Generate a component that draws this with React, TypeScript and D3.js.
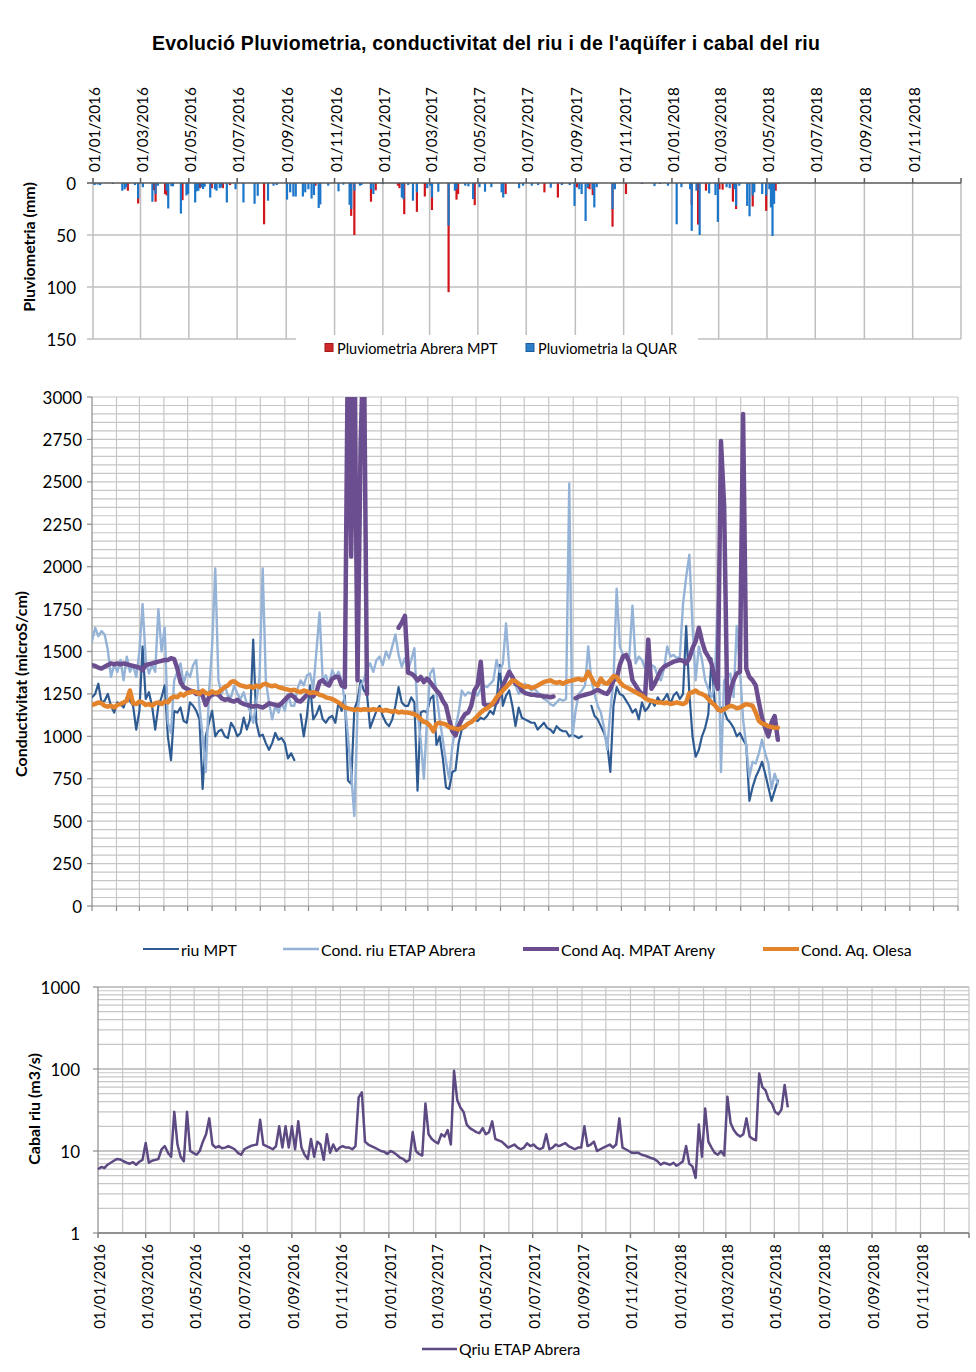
import React, { useEffect, useRef } from "react";
import * as d3 from "d3";

// axis labels
const dateLabels = [
  "01/01/2016", "01/03/2016", "01/05/2016", "01/07/2016", "01/09/2016", "01/11/2016",
  "01/01/2017", "01/03/2017", "01/05/2017", "01/07/2017", "01/09/2017", "01/11/2017",
  "01/01/2018", "01/03/2018", "01/05/2018", "01/07/2018", "01/09/2018", "01/11/2018",
];
const rainTicks = [0, 50, 100, 150];
const condTicks = [0, 250, 500, 750, 1000, 1250, 1500, 1750, 2000, 2250, 2500, 2750, 3000];
const flowTicks = [1, 10, 100, 1000];

// rain events (mm)
const rainDates = [
  "2016-01-03", "2016-01-07", "2016-01-10", "2016-01-26", "2016-02-07", "2016-02-10", "2016-02-12", "2016-02-14",
  "2016-02-23", "2016-02-27", "2016-03-04", "2016-03-16", "2016-03-18", "2016-03-20", "2016-03-23", "2016-04-01",
  "2016-04-03", "2016-04-05", "2016-04-09", "2016-04-11", "2016-04-21", "2016-04-23", "2016-04-28", "2016-04-30",
  "2016-05-09", "2016-05-11", "2016-05-13", "2016-05-15", "2016-05-17", "2016-05-19", "2016-05-21", "2016-05-28",
  "2016-05-30", "2016-06-03", "2016-06-05", "2016-06-09", "2016-06-11", "2016-06-13", "2016-06-18", "2016-06-22",
  "2016-06-29", "2016-07-09", "2016-07-23", "2016-07-27", "2016-08-04", "2016-08-09", "2016-08-16", "2016-08-20",
  "2016-09-02", "2016-09-06", "2016-09-10", "2016-09-13", "2016-09-22", "2016-09-25", "2016-09-29", "2016-10-03",
  "2016-10-06", "2016-10-08", "2016-10-12", "2016-10-14", "2016-10-24", "2016-11-06", "2016-11-12", "2016-11-20",
  "2016-11-22", "2016-11-26", "2016-12-03", "2016-12-05", "2016-12-17", "2016-12-20", "2016-12-23", "2017-01-01",
  "2017-01-20", "2017-01-22", "2017-01-25", "2017-01-27", "2017-01-28", "2017-02-02", "2017-02-08", "2017-02-13",
  "2017-02-23", "2017-02-26", "2017-03-02", "2017-03-04", "2017-03-12", "2017-03-25", "2017-04-02", "2017-04-04",
  "2017-04-06", "2017-04-15", "2017-04-19", "2017-04-25", "2017-04-27", "2017-05-03", "2017-05-10", "2017-05-18",
  "2017-05-31", "2017-06-02", "2017-06-05", "2017-06-22", "2017-06-27", "2017-07-08", "2017-07-16", "2017-07-24",
  "2017-08-01", "2017-08-10", "2017-08-15", "2017-08-25", "2017-08-31", "2017-09-03", "2017-09-06", "2017-09-09",
  "2017-09-14", "2017-09-17", "2017-09-19", "2017-09-23", "2017-09-25", "2017-09-28", "2017-10-18", "2017-10-21",
  "2017-11-04", "2017-11-24", "2017-12-10", "2017-12-17", "2017-12-27", "2018-01-07", "2018-01-13", "2018-01-24",
  "2018-01-26", "2018-02-01", "2018-02-03", "2018-02-05", "2018-02-13", "2018-02-17", "2018-02-25", "2018-02-28",
  "2018-03-02", "2018-03-06", "2018-03-11", "2018-03-15", "2018-03-19", "2018-03-21", "2018-03-23", "2018-03-27",
  "2018-04-06", "2018-04-09", "2018-04-13", "2018-04-15", "2018-04-25", "2018-04-30", "2018-05-04", "2018-05-06",
  "2018-05-08", "2018-05-10", "2018-05-12", "2018-05-16",
];
const rainAbreraMPT = [
  0, 0, 0, 0, 0, 0, 0, 7.4, 0, 19.7, 0, 0, 7, 18, 0, 10.6,
  12, 0, 0, 0, 0, 16.5, 0, 0, 0, 0, 0, 5, 0, 0, 0, 0,
  5, 0, 0, 0, 0, 5, 0, 2, 0, 0, 0, 0, 39.7, 0, 0, 0,
  0, 0, 0, 0, 0, 0, 0, 0, 0, 2.6, 0, 0, 0, 0, 0, 0,
  31.6, 50, 0, 0, 18, 0, 7, 0, 2.6, 5, 0, 0, 30, 0, 0, 27.7,
  13, 0, 0, 26, 0, 105, 0, 16, 10.6, 0, 0, 0, 21.3, 0, 0, 0,
  0, 0, 10.6, 0, 0, 0, 0, 9, 0, 14, 0, 0, 0, 4.2, 0, 0,
  0, 5, 6, 11.6, 0, 0, 42, 0, 10.6, 0, 0, 0, 0, 0, 0, 0,
  21, 0, 40, 0, 7.4, 0, 0, 0, 6, 6.4, 0, 0, 18, 0, 25, 0,
  0, 0, 22.6, 0, 0, 26.8, 0, 0, 0, 0, 7.4, 0,
];
const rainQuar = [
  2, 1.5, 2, 1, 7.4, 6, 4, 0, 2, 15, 4, 18, 0, 10.6, 2.6, 0,
  7.4, 24.5, 3, 3.2, 29.4, 0, 12, 10.6, 18.7, 8, 7.4, 0, 4, 5.8, 3.5, 14,
  0, 6, 7.4, 5, 4, 0, 18.7, 0, 6, 18.7, 20, 12.3, 0, 17, 2.6, 2,
  16, 9, 13, 13, 13, 9, 6, 15, 11.6, 0, 24, 20.6, 2.6, 8, 1.6, 21,
  25, 7.4, 2.6, 2, 6, 10.6, 0, 1, 0, 0, 14, 15.5, 0, 2, 17, 9,
  0, 5, 2.6, 14, 8.4, 41, 7.4, 6, 0, 2.6, 3.2, 15.5, 0, 4, 8.4, 4,
  9, 14, 0, 5, 2.6, 2.6, 2, 0, 4.5, 0, 2, 2, 22, 0, 6, 10.6,
  36.5, 4, 0, 6, 23.5, 4, 25, 6, 0, 1, 3, 1, 2.6, 39.7, 4, 6,
  46, 7.4, 0, 50, 0, 10, 11.6, 37.4, 0, 0, 4, 5, 0, 6, 22, 2.6,
  22, 32, 12, 9, 10.6, 12, 6, 23.5, 51, 20, 0, 1,
];

// conductivity series, one value every 4 days from 01/01/2016 (microS/cm)
const seriesStart = "2016-01-01";
const seriesStepDays = 4;
const riuMPT = [
  1230, 1250, 1310, 1200, 1210, 1250, 1180, 1140, 1200, 1190,
  1170, 1230, 1210, 1180, 1040, 1150, 1530, 1220, 1260, 1180,
  1040, 1180, 1230, 1300, 1000, 860, 1150, 1140, 1170, 1090,
  1080, 1200, 1180, 1150, 1100, 690, 1000, 1080, 1150, 1000,
  1030, 1040, 1000, 990, 1080, 1050, 1000, 1020, 1110, 1040,
  1100, 1570, 1080, 1000, 1010, 960, 920, 960, 1020, 980,
  990, 960, 870, 900, 860, null, 1130, 1000, 1120, 1300,
  1100, 1130, 1180, 1100, 1080, 1110, 1120, 1080, 1200, 1150,
  1240, 740, 720, 1160, 1210, 1330, 1270, 1250, 1050, 1100,
  1150, 1180, 1120, 1080, 1060, 1100, 1180, 1290, 1200, 1180,
  1180, 1230, 1200, 680, 1140, 1150, 1140, 1220, 1240, 950,
  1000, 870, 700, 690, 790, 800, 960, 1040, 1050, 1080,
  1080, 1100, 1090, 1110, 1100, 1120, 1150, 1130, 1200, 1420,
  1180, 1240, 1270, 1180, 1060, 1170, 1110, 1100, 1090, 1080,
  1080, 1040, 1060, 1080, 1050, 1040, 1020, 1060, 1040, 1030,
  1030, 1000, 1010, 1000, 990, 1000, null, null, 1180, 1120,
  1100, 1060, 1020, 960, 790, 1180, 1290, 1250, 1240, 1210,
  1180, 1140, 1160, 1100, 1200, 1150, 1170, 1210, 1180, 1230,
  1200, 1220, 1250, 1190, 1240, 1260, 1220, 1250, 1650, 1250,
  1000, 880, 920, 1000, 1050, 1130, 1460, 1200, 1150, 1170,
  1150, 1100, 1080, 1050, 1000, 1020, 980, 950, 620, 700,
  760, 800, 850, 780, 700, 620, 680, 740,
];
const riuEtapAbrera = [
  1560, 1640, 1590, 1620, 1600, 1510, 1350, 1420, 1380, 1450,
  1330, 1470, 1380, 1420, 1350, 1500, 1780, 1450, 1370, 1420,
  1380, 1750, 1500, 1640, 1080, 1020, 1330, 1380, 1430, 1310,
  1380, 1350, 1420, 1450, 1180, 1000, 790, 1250, 1530, 1990,
  1330, 1250, 1300, 1240, 1230, 1300, 1250, 1220, 1260, 1190,
  1150, 1080, 1200, 1350, 1990, 1330, 1200, 1100, 1180, 1140,
  1200, 1150, 1250, 1180, 1180, 1280, 1330, 1300, 1360, 1370,
  1280, 1500, 1730, 1330, 1360, 1300, 1390, 1350, 1380, 1330,
  1200, 1000, 780, 530, 1140, 1300, 1330, 1400, 1430, 1380,
  1450, 1470, 1420, 1500, 1460, 1530, 1600, 1480, 1410, 1460,
  1390, 1450, 1520, 1140, 980, 750, 1100, 1370, 1400, 1250,
  1100, 980, 850, 750, 940, 1050, 1140, 1270, 1240, 1260,
  1250, 1270, 1240, 1280, 1300, 1290, 1310, 1330, 1450, 1380,
  1430, 1665, 1410, 1330, 1300, 1250, 1280, 1310, 1290, 1270,
  1280, 1260, 1240, 1220, 1210, 1190, 1180, 1200, 1220, 1210,
  1220, 2490, 1000, 1150, 1250, 1270, 1300, 1530, 1330, 1250,
  1180, 1140, 1050, 920, 1150, 1330, 1870, 1530, 1480, 1460,
  1470, 1770, 1430, 1470, 1450, 1400, 1390, 1420, 1410, 1350,
  1330, 1400, 1530, 1470, 1480, 1460, 1470, 1780, 1940, 2070,
  1650, 1330, 1530, 1450, 1330, 1280, 1230, 1300, 1800, 790,
  1330, 1350, 1370, 1230, 1650, 1400, 1100, 940, 760, 850,
  840, 900, 980, 900, 840, 690, 780, 720,
];
const aqMpatAreny = [
  1420, 1415, 1405, 1400, 1410, 1420, 1430, 1425, 1430, 1425,
  1430, 1425, 1420, 1415, 1410, 1405, 1390, 1420, 1425, 1430,
  1435, 1440, 1445, 1450, 1450, 1460, 1455, 1400, 1320, 1290,
  1280, 1270, 1265, 1250, 1260, 1240, 1185, 1230, 1245, 1250,
  1245, 1225, 1215, 1220, 1210, 1205, 1215, 1200, 1190, 1185,
  1180, 1175, 1180, 1175, 1170, 1180, 1195, 1190, 1185, 1180,
  1195, 1215, 1235, 1245, 1230, 1210, 1205, 1225, 1245, 1250,
  1235, 1260, 1320, 1330, 1310, 1300, 1340, 1350, 1350, 1300,
  1290, 3400, 2060, 3400, 1330, 2730, 3400, 1250, null, null,
  null, null, null, null, null, null, null, 1640, 1670, 1710,
  1375, 1370, 1355, 1330, 1350, 1320, 1340, 1320, 1295, 1270,
  1250, 1210, 1180, 1100, 1030, 1005, 1060, 1100, 1130, 1140,
  1180, 1270, 1300, 1440, 1190, 1180, 1185, 1190, 1200, 1250,
  1300, 1340, 1380, 1350, 1310, 1300, 1270, 1255, 1250, 1245,
  1245, 1240, 1240, 1235, 1235, 1230, 1235, null, null, null,
  null, null, null, 1225, 1235, 1240, 1245, 1250, 1255, 1265,
  1275, 1265, 1255, 1250, 1280, 1330, 1340, 1420, 1470, 1480,
  1440, 1330, 1300, 1270, 1250, 1235, 1570, 1280, 1310, 1350,
  1390, 1410, 1420, 1430, 1440, 1445, 1450, 1445, 1430, 1460,
  1520, 1560, 1640, 1560, 1500, 1470, 1430, 1340, 1280, 2740,
  2360, 1180, 1270, 1330, 1370, 1380, 2900, 1400, 1350, 1330,
  1300, 1200, 1110, 1050, 1000, 1080, 1120, 980,
];
const aqOlesa = [
  1185, 1190, 1200, 1195, 1180, 1175, 1180, 1170, 1185, 1190,
  1200, 1210, 1270, 1195, 1190, 1205, 1200, 1185, 1190, 1180,
  1195, 1200, 1190, 1205, 1200, 1225, 1235, 1230, 1250, 1240,
  1255, 1260, 1265, 1260, 1250, 1270, 1255, 1250, 1265, 1255,
  1260, 1275, 1290, 1300, 1320, 1325, 1310, 1300, 1295, 1290,
  1295, 1285, 1300, 1290, 1305, 1310, 1300, 1295, 1300, 1290,
  1285, 1280, 1275, 1270, 1275, 1265, 1260, 1270, 1265, 1255,
  1260, 1255, 1245, 1240, 1230, 1225, 1220, 1210, 1200, 1185,
  1170, 1165, 1160, 1155, 1160, 1155, 1160, 1158, 1155, 1160,
  1155, 1160, 1150, 1155, 1150, 1145, 1150, 1140, 1145, 1140,
  1140, 1135, 1130, 1120, 1100, 1085, 1080, 1060, 1030, 1075,
  1080, 1075, 1070, 1055, 1050, 1045, 1040, 1050, 1060, 1075,
  1085, 1100, 1120, 1140, 1155, 1165, 1180, 1200, 1230, 1250,
  1270, 1290, 1310, 1330, 1325, 1310, 1300, 1290, 1295, 1285,
  1290, 1300, 1310, 1320, 1325, 1330, 1320, 1315, 1320, 1310,
  1320, 1325, 1330, 1335, 1340, 1330, 1340, 1380, 1345, 1310,
  1300, 1340, 1315, 1310, 1330, 1355, 1350, 1320, 1300, 1290,
  1280, 1270, 1260, 1250, 1240, 1225, 1215, 1210, 1205, 1200,
  1200, 1195, 1200, 1190, 1195, 1200, 1195, 1190, 1200, 1255,
  1260, 1270, 1255, 1250, 1240, 1220, 1200, 1185, 1160, 1150,
  1160, 1170, 1180, 1175, 1165, 1170, 1180, 1190, 1185, 1180,
  1140, 1090, 1075, 1070, 1060, 1055, 1050, 1050,
];

// river flow, same 4-day steps (m3/s)
const qRiuEtap = [
  6.0, 6.4, 6.2, 6.8, 7.2, 7.6, 8.0, 7.9, 7.5, 7.2,
  7.0, 7.3, 6.8, 7.4, 7.8, 12.5, 7.2, 7.6, 7.8, 8.0,
  10.5, 11.5, 9.5, 8.5, 30, 12, 8.5, 7.5, 30, 10,
  9.5, 9.0, 10, 13, 16, 25, 12, 11, 11.5, 10.8,
  11, 11.5, 11, 10.5, 9.5, 9.0, 10.5, 11, 11.5, 11.8,
  12, 24, 12, 11.5, 11, 10.5, 11.5, 20, 11, 20,
  11, 20, 10.5, 23, 11, 9, 8, 14, 8.5, 13,
  12, 7.8, 16, 9.5, 12, 10, 11, 11.5, 11, 11,
  10.5, 11.5, 45, 52, 13, 12, 11.5, 11, 10.5, 10,
  9.8, 9.2, 10, 9.6, 9.0, 8.3, 8.0, 7.4, 7.8, 17,
  10, 9.2, 8.8, 38, 16, 14, 13, 12.4, 16, 15,
  18, 12, 95, 42, 34, 30, 21, 19, 18, 17,
  16.5, 19, 16, 17, 23, 14, 13.5, 13, 12, 11,
  11.5, 12, 11, 10.5, 11, 12.4, 11.5, 12, 11, 10.5,
  11, 16, 10.5, 11, 12, 11.5, 12, 12.5, 11.5, 11,
  10.5, 11, 11, 20, 11.5, 12, 13, 10, 10.5, 11,
  11.5, 12, 11, 12, 25, 11, 10.5, 10, 9.5, 9.5,
  9.5, 9.0, 8.8, 8.5, 8.2, 8.0, 7.5, 6.8, 7.2, 7.0,
  6.8, 7.2, 6.6, 7.0, 7.5, 11.5, 7.0, 6.5, 4.7, 21,
  8.5, 33, 13, 11, 9.5, 9, 10, 8.8, 46, 22,
  18, 16, 15, 16, 25, 15, 14, 13.5, 88, 60,
  55, 42, 38, 30, 28, 32, 64, 34,
];

const FONT = "Lato, 'Liberation Sans', sans-serif";
const GRID = "#c6c6c6";

export default function App() {
  const svgRef = useRef<SVGSVGElement | null>(null);

  useEffect(() => {
    if (!svgRef.current) return;
    const svg = d3.select(svgRef.current);
    svg.selectAll("*").remove();

    const parseLabel = d3.timeParse("%d/%m/%Y");
    const parseDay = d3.timeParse("%Y-%m-%d");
    const t0 = parseDay(seriesStart) as Date;
    const t1 = new Date(2019, 0, 1);
    const labelDates = dateLabels.map((s) => parseLabel(s) as Date);
    const months = d3.timeMonth.range(t0, d3.timeDay.offset(t1, 1));
    const seriesDates = d3.range(riuMPT.length).map((i) => d3.timeDay.offset(t0, i * seriesStepDays));

    const vText = (g, x, y, txt, anchor, size, weight = "normal") =>
      g.append("text")
        .attr("transform", `translate(${x},${y}) rotate(-90)`)
        .attr("text-anchor", anchor)
        .attr("dominant-baseline", "central")
        .style("font-family", FONT)
        .style("font-size", size + "px")
        .style("font-weight", weight)
        .attr("fill", "#000")
        .text(txt);

    svg.append("text")
      .attr("x", 486).attr("y", 50)
      .attr("text-anchor", "middle")
      .style("font-family", "'Liberation Sans', Arial, sans-serif")
      .style("font-size", "19.5px").style("font-weight", "bold")
      .style("letter-spacing", "0.25px")
      .text("Evolució Pluviometria, conductivitat del riu i de l'aqüífer i cabal del riu");

    // ---------- pluviometria ----------
    const xR = d3.scaleTime().domain([t0, t1]).range([93, 961]);
    const yR = d3.scaleLinear().domain([0, 150]).range([183, 339]);
    const gTop = svg.append("g");

    gTop.selectAll("line.h").data(rainTicks.slice(1)).join("line")
      .attr("x1", 87).attr("x2", 961)
      .attr("y1", (d) => yR(d)).attr("y2", (d) => yR(d))
      .attr("stroke", "#bfbfbf").attr("stroke-width", 1.5);
    gTop.selectAll("line.v").data([...labelDates, t1]).join("line")
      .attr("x1", (d) => xR(d)).attr("x2", (d) => xR(d))
      .attr("y1", 183).attr("y2", 339)
      .attr("stroke", "#bfbfbf").attr("stroke-width", 1.5);

    const rainX = rainDates.map((s) => parseDay(s) as Date);
    gTop.selectAll("rect.mpt").data(rainAbreraMPT).join("rect")
      .attr("x", (_, i) => xR(rainX[i]) - 1.1).attr("y", yR(0))
      .attr("width", 2.2).attr("height", (d) => yR(d) - yR(0))
      .attr("fill", "#d0161b");
    gTop.selectAll("rect.quar").data(rainQuar).join("rect")
      .attr("x", (_, i) => xR(rainX[i]) - 1.1).attr("y", yR(0))
      .attr("width", 2.2).attr("height", (d) => yR(d) - yR(0))
      .attr("fill", "#1c76c9");

    gTop.append("line").attr("x1", 87).attr("x2", 961).attr("y1", 183).attr("y2", 183)
      .attr("stroke", "#595959").attr("stroke-width", 1.5);
    gTop.selectAll("line.t").data([...labelDates, t1]).join("line")
      .attr("x1", (d) => xR(d)).attr("x2", (d) => xR(d)).attr("y1", 178).attr("y2", 183)
      .attr("stroke", "#595959").attr("stroke-width", 1.5);

    gTop.selectAll("text.y").data(rainTicks).join("text")
      .attr("x", 76).attr("y", (d) => yR(d))
      .attr("text-anchor", "end").attr("dominant-baseline", "central")
      .style("font-family", FONT).style("font-size", "17px")
      .text((d) => d);
    labelDates.forEach((d, i) => vText(gTop, xR(d) + 1, 172, dateLabels[i], "start", 15.3));
    vText(gTop, 28, 247, "Pluviometria (mm)", "middle", 16, "bold");

    gTop.append("rect").attr("x", 296).attr("y", 335).attr("width", 402).attr("height", 24).attr("fill", "#fff");
    const topLegend = [
      { x: 325, fill: "#cf2a2a", stroke: "#a31717", label: "Pluviometria Abrera MPT" },
      { x: 526, fill: "#2f7fc8", stroke: "#1d5f9c", label: "Pluviometria la QUAR" },
    ];
    topLegend.forEach((l) => {
      gTop.append("rect").attr("x", l.x).attr("y", 343.5).attr("width", 8).attr("height", 8)
        .attr("fill", l.fill).attr("stroke", l.stroke).attr("stroke-width", 1);
      gTop.append("text").attr("x", l.x + 12).attr("y", 348)
        .attr("dominant-baseline", "central")
        .style("font-family", FONT).style("font-size", "14.5px")
        .text(l.label);
    });

    // ---------- conductivitat ----------
    const xC = d3.scaleTime().domain([t0, t1]).range([92, 958]);
    const yC = d3.scaleLinear().domain([0, 3000]).range([906, 397]);
    const gMid = svg.append("g");

    gMid.selectAll("line.h").data(d3.range(50, 3001, 50)).join("line")
      .attr("x1", 92).attr("x2", 958)
      .attr("y1", (d) => yC(d)).attr("y2", (d) => yC(d))
      .attr("stroke", GRID).attr("stroke-width", 1.2);
    gMid.selectAll("line.v").data(months.slice(1)).join("line")
      .attr("x1", (d) => xC(d)).attr("x2", (d) => xC(d))
      .attr("y1", 397).attr("y2", 906)
      .attr("stroke", GRID).attr("stroke-width", 1.2);
    gMid.append("line").attr("x1", 92).attr("x2", 92).attr("y1", 397).attr("y2", 906)
      .attr("stroke", "#8c8c8c").attr("stroke-width", 1.2);
    gMid.append("line").attr("x1", 92).attr("x2", 958).attr("y1", 906).attr("y2", 906)
      .attr("stroke", "#8c8c8c").attr("stroke-width", 1.2);
    gMid.selectAll("line.ty").data(condTicks).join("line")
      .attr("x1", 87).attr("x2", 92).attr("y1", (d) => yC(d)).attr("y2", (d) => yC(d))
      .attr("stroke", "#8c8c8c").attr("stroke-width", 1.2);
    gMid.selectAll("line.tx").data(months).join("line")
      .attr("x1", (d) => xC(d)).attr("x2", (d) => xC(d)).attr("y1", 906).attr("y2", 911)
      .attr("stroke", "#8c8c8c").attr("stroke-width", 1.2);
    gMid.selectAll("text.y").data(condTicks).join("text")
      .attr("x", 82).attr("y", (d) => yC(d))
      .attr("text-anchor", "end").attr("dominant-baseline", "central")
      .style("font-family", FONT).style("font-size", "17px")
      .text((d) => d);
    vText(gMid, 20, 684, "Conductivitat (microS/cm)", "middle", 16, "bold");

    svg.append("clipPath").attr("id", "condClip")
      .append("rect").attr("x", 92).attr("y", 397).attr("width", 866).attr("height", 509);

    const condSeries = [
      { values: riuMPT, color: "#2f5b93", width: 2.2, label: "riu MPT", lx: 143 },
      { values: riuEtapAbrera, color: "#95b3d7", width: 2.4, label: "Cond. riu ETAP Abrera", lx: 283 },
      { values: aqMpatAreny, color: "#6b4e90", width: 4.5, label: "Cond Aq. MPAT Areny", lx: 523 },
      { values: aqOlesa, color: "#e3832c", width: 4.5, label: "Cond. Aq. Olesa", lx: 763 },
    ];
    const condLine = d3.line<number | null>()
      .defined((v) => v != null)
      .x((_, i) => xC(seriesDates[i]))
      .y((v) => yC(v as number));
    const gLines = gMid.append("g").attr("clip-path", "url(#condClip)");
    condSeries.forEach((s) => {
      gLines.append("path").attr("d", condLine(s.values))
        .attr("fill", "none").attr("stroke", s.color).attr("stroke-width", s.width)
        .attr("stroke-linejoin", "round").attr("stroke-linecap", "round");
      gMid.append("line").attr("x1", s.lx).attr("x2", s.lx + 36).attr("y1", 949).attr("y2", 949)
        .attr("stroke", s.color).attr("stroke-width", Math.min(s.width, 4));
      gMid.append("text").attr("x", s.lx + 38).attr("y", 949)
        .attr("dominant-baseline", "central")
        .style("font-family", FONT).style("font-size", "15.8px")
        .text(s.label);
    });

    // ---------- cabal ----------
    const xQ = d3.scaleTime().domain([t0, t1]).range([98, 969]);
    const yQ = d3.scaleLog().domain([1, 1000]).range([1233, 987]);
    const gBot = svg.append("g");

    gBot.selectAll("line.h").data(yQ.ticks()).join("line")
      .attr("x1", 98).attr("x2", 969)
      .attr("y1", (d) => yQ(d)).attr("y2", (d) => yQ(d))
      .attr("stroke", (d) => (flowTicks.includes(d) ? "#b3b3b3" : GRID))
      .attr("stroke-width", (d) => (flowTicks.includes(d) ? 1.6 : 1.2));
    gBot.selectAll("line.v").data(months.slice(1)).join("line")
      .attr("x1", (d) => xQ(d)).attr("x2", (d) => xQ(d))
      .attr("y1", 987).attr("y2", 1233)
      .attr("stroke", GRID).attr("stroke-width", 1.2);
    gBot.append("line").attr("x1", 98).attr("x2", 98).attr("y1", 987).attr("y2", 1233)
      .attr("stroke", "#8c8c8c").attr("stroke-width", 1.2);
    gBot.selectAll("line.ty").data(flowTicks).join("line")
      .attr("x1", 93).attr("x2", 98).attr("y1", (d) => yQ(d)).attr("y2", (d) => yQ(d))
      .attr("stroke", "#8c8c8c").attr("stroke-width", 1.2);
    gBot.append("line").attr("x1", 98).attr("x2", 969).attr("y1", 1233).attr("y2", 1233)
      .attr("stroke", "#7f7f7f").attr("stroke-width", 1.5);
    gBot.selectAll("line.tx").data([...labelDates, t1]).join("line")
      .attr("x1", (d) => xQ(d)).attr("x2", (d) => xQ(d)).attr("y1", 1233).attr("y2", 1238)
      .attr("stroke", "#7f7f7f").attr("stroke-width", 1.5);
    gBot.selectAll("text.y").data(flowTicks).join("text")
      .attr("x", 80).attr("y", (d) => yQ(d))
      .attr("text-anchor", "end").attr("dominant-baseline", "central")
      .style("font-family", FONT).style("font-size", "17px")
      .text((d) => d);
    labelDates.forEach((d, i) => vText(gBot, xQ(d) + 1, 1244, dateLabels[i], "end", 15.3));
    vText(gBot, 33, 1109, "Cabal riu (m3/s)", "middle", 16, "bold");

    const flowLine = d3.line<number>()
      .x((_, i) => xQ(seriesDates[i]))
      .y((v) => yQ(v));
    gBot.append("path").attr("d", flowLine(qRiuEtap))
      .attr("fill", "none").attr("stroke", "#5d4a82").attr("stroke-width", 2.5)
      .attr("stroke-linejoin", "round");
    gBot.append("line").attr("x1", 422).attr("x2", 457).attr("y1", 1349).attr("y2", 1349)
      .attr("stroke", "#5d4a82").attr("stroke-width", 2.5);
    gBot.append("text").attr("x", 459).attr("y", 1349)
      .attr("dominant-baseline", "central")
      .style("font-family", FONT).style("font-size", "15.7px")
      .text("Qriu ETAP Abrera");
  }, []);

  return (
    <svg
      ref={svgRef}
      width={976}
      height={1372}
      style={{ position: "absolute", left: 0, top: 0, background: "#fff" }}
    />
  );
}
